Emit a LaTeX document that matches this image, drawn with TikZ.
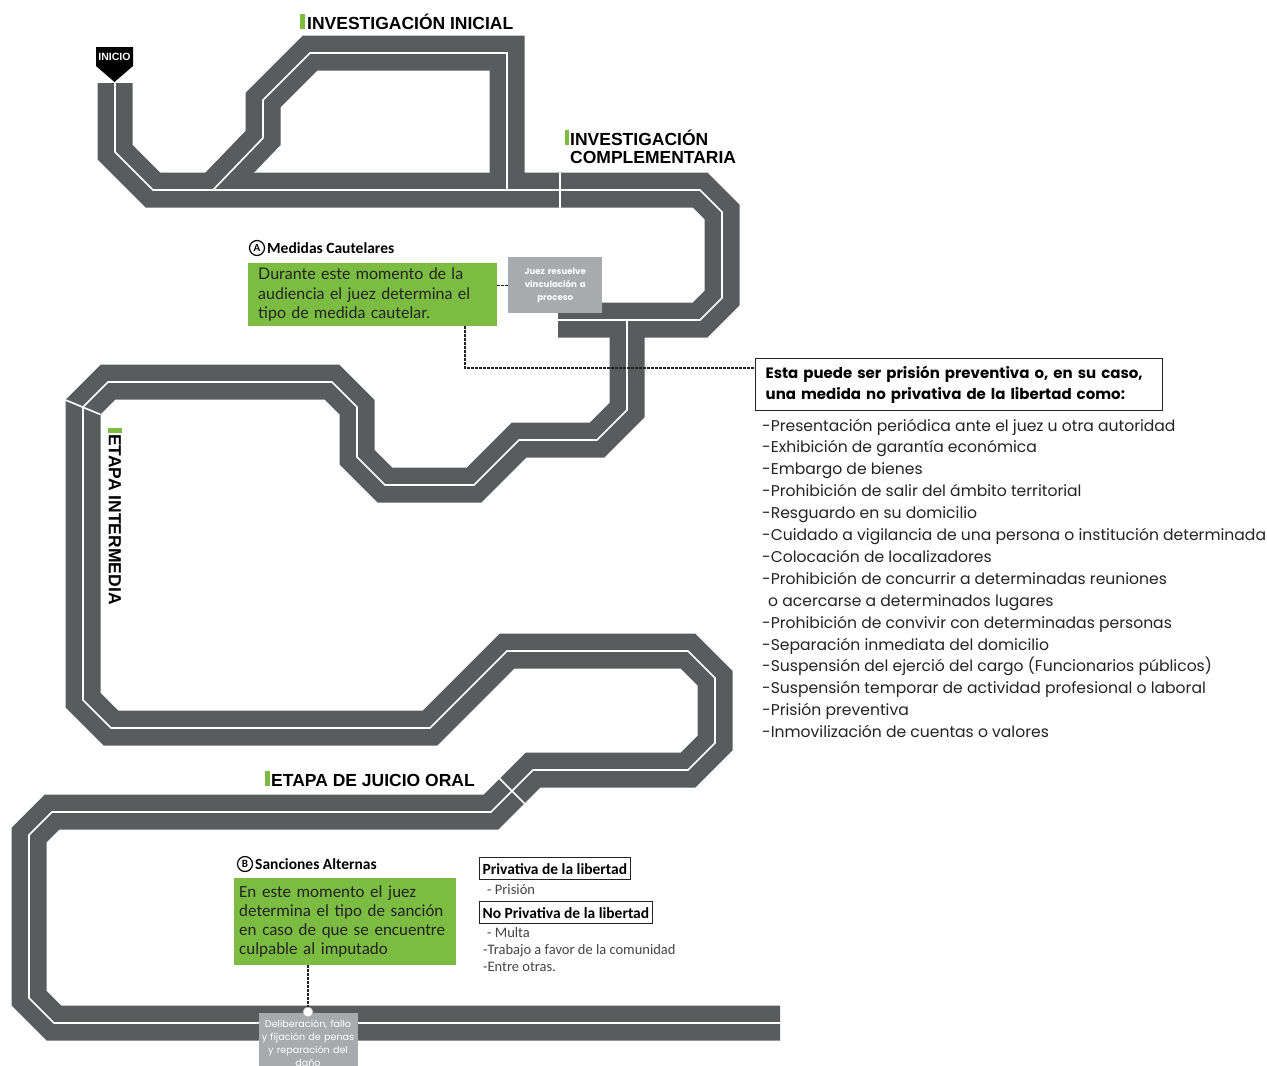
\documentclass[tikz,border=0pt]{standalone}
\usepackage{fontspec}
\setmainfont{Liberation Sans}
\newfontfamily\geofont{Poppins}
\newfontfamily\calfont{Carlito}
\newfontfamily\humfont{Lato}
\definecolor{roadgray}{RGB}{90,91,93}
\definecolor{boxgreen}{RGB}{124,188,66}
\definecolor{boxgray}{RGB}{168,170,173}
\definecolor{inkgray}{RGB}{35,35,35}
\begin{document}
\begin{tikzpicture}[x=1pt,y=-1pt,
  road/.style={draw=roadgray,line width=35pt,line join=miter,line cap=butt},
  lane/.style={draw=white,line width=1.6pt,line join=miter,line cap=butt},
  crossmark/.style={draw=white,line width=1.6pt},
  title/.style={font=\fontsize{17.5}{20}\selectfont\bfseries,inner sep=0pt,anchor=base west,text=black},
  gbar/.style={fill=boxgreen},
  dashconn/.style={draw=inkgray,line width=1.1pt,dash pattern=on 2.2pt off 1.8pt},
  listitem/.style={anchor=base west,inner sep=0pt,font=\geofont\fontsize{15.6}{18}\selectfont,text=inkgray},
  smallitem/.style={anchor=base west,inner sep=0pt,font=\calfont\fontsize{14.5}{16}\selectfont,text=inkgray!85},
  framebox/.style={draw=inkgray,line width=1.2pt,anchor=north west,inner xsep=3pt,inner ysep=0pt,minimum height=22pt,font=\calfont\bfseries\fontsize{15.5}{15.5}\selectfont},
  letter/.style={circle,draw=black,line width=1.2pt,inner sep=0pt,minimum size=15pt,font=\calfont\bfseries\fontsize{11}{11}\selectfont},
  subhead/.style={anchor=west,inner sep=0pt,font=\calfont\bfseries\fontsize{15.5}{16}\selectfont}
]
\useasboundingbox[fill=white] (0,0) rectangle (1267,1066);

% ---------- road ----------
\def\rdA{(115,83) -- (115,152) -- (153,190) -- (700,190) -- (722,212) -- (722,298) -- (700,320) -- (558,320)}
\def\rdB{(213,190) -- (263,138) -- (263,100) -- (310,53) -- (507,53) -- (507,190)}
\def\rdC{(627,320) -- (627,410) -- (597,440) -- (519,440) -- (474,485) -- (385,485) -- (357,457) -- (357,407) -- (332,382) -- (108,382) -- (83,407) -- (83,700) -- (111,728) -- (430,728) -- (507,651) -- (688,651) -- (715,678) -- (715,743) -- (688,770) -- (533,770) -- (491,812) -- (52,812) -- (29,835) -- (29,998) -- (54,1023) -- (780,1023)}
\draw[road] \rdA;
\draw[road] \rdB;
\draw[road] \rdC;
\draw[lane] \rdA;
\draw[lane] \rdB;
\draw[lane] \rdC;
\draw[crossmark] (560,172.5) -- (560,207.5);
\draw[crossmark] (65.5,400) -- (100.5,414.5);
\draw[crossmark] (499.6,778.6) -- (524.4,803.4);

% ---------- INICIO marker ----------
\fill[black] (96,47) -- (133,47) -- (133,66) -- (114.5,82) -- (96,66) -- cycle;
\node[inner sep=0pt,text=white,font=\bfseries\fontsize{10.5}{10.5}\selectfont] (inicio) at (114.5,56.5) {INICIO};

% ---------- stage titles ----------
\fill[gbar] (300,14) rectangle (305,29);
\node[title] (tInicial) at (307,29) {INVESTIGACIÓN INICIAL};
\fill[gbar] (565,130) rectangle (569,145);
\node[title] (tComp1) at (570,145) {INVESTIGACIÓN};
\node[title] (tComp2) at (570,163) {COMPLEMENTARIA};
\fill[gbar] (108,428) rectangle (122,433);
\node[title,rotate=-90,anchor=west] (tInter) at (115,434) {ETAPA INTERMEDIA};
\fill[gbar] (265,771) rectangle (270,786);
\node[title] (tJuicio) at (271,786) {ETAPA DE JUICIO ORAL};

% ---------- A: medidas cautelares ----------
\node[letter] (cA) at (257,248) {A};
\node[subhead] (hA) at (267,248.5) {Medidas Cautelares};
\node[fill=boxgreen,anchor=north west,text width=229pt,inner xsep=10pt,inner ysep=0pt,minimum height=63pt,align=left,
      font=\humfont\fontsize{16}{19.5}\selectfont,text=inkgray] (gA) at (248,263)
      {Durante este momento de la\\audiencia el juez determina el\\tipo de medida cautelar.};
\node[fill=boxgray,anchor=north west,text width=90pt,inner sep=2pt,minimum height=56pt,align=center,
      font=\geofont\bfseries\fontsize{8.6}{13}\selectfont,text=white] (juez) at (508,257)
      {Juez resuelve\\vinculación a\\proceso};
\draw[dashconn] (gA.east |- juez.west) -- (juez.west);

\node[draw=inkgray,line width=1.3pt,anchor=north west,text width=387pt,inner xsep=10pt,inner ysep=0pt,minimum height=52pt,align=left,
      font=\geofont\bfseries\fontsize{15}{21}\selectfont,text=black] (esta) at (755,358)
      {Esta puede ser prisión preventiva o, en su caso,\\una medida no privativa de la libertad como:};
\coordinate (bendA) at (465,368);
\draw[dashconn] (bendA |- gA.south) -- (bendA) -- (esta.west |- bendA);

\foreach \t [count=\i] in {
  -Presentación periódica ante el juez u otra autoridad,
  -Exhibición de garantía económica,
  -Embargo de bienes,
  -Prohibición de salir del ámbito territorial,
  -Resguardo en su domicilio,
  -Cuidado a vigilancia de una persona o institución determinada,
  -Colocación de localizadores,
  -Prohibición de concurrir a determinadas reuniones,
  \hspace*{6pt}o acercarse a determinados lugares,
  -Prohibición de convivir con determinadas personas,
  -Separación inmediata del domicilio,
  -Suspensión del ejerció del cargo (Funcionarios públicos),
  -Suspensión temporar de actividad profesional o laboral,
  -Prisión preventiva,
  -Inmovilización de cuentas o valores}
  \node[listitem] (li\i) at (762,{431+21.9*(\i-1)}) {\t};

% ---------- B: sanciones alternas ----------
\node[letter] (cB) at (245,864) {B};
\node[subhead] (hB) at (255,864.5) {Sanciones Alternas};
\node[fill=boxgreen,anchor=north west,text width=212pt,inner xsep=5pt,inner ysep=0pt,minimum height=87pt,align=left,
      font=\calfont\fontsize{17}{19}\selectfont,text=inkgray] (gB) at (234,878)
      {En este momento el juez\\determina el tipo de sanción\\en caso de que se encuentre\\culpable al imputado};

\node[framebox] (priv) at (479,857) {Privativa de la libertad};
\node[smallitem] (pr1) at (487,894) {- Prisión};
\node[framebox] (nopriv) at (479,901) {No Privativa de la libertad};
\node[smallitem] (np1) at (487,937) {- Multa};
\node[smallitem] (np2) at (483,954) {-Trabajo a favor de la comunidad};
\node[smallitem] (np3) at (483,971) {-Entre otras.};

\node[fill=boxgray,anchor=north,text width=95pt,inner sep=2pt,minimum height=60pt,align=center,
      font=\geofont\fontsize{9.6}{13}\selectfont,text=white] (delib) at (308,1013)
      {Deliberación, fallo\\y fijación de penas\\y reparación del\\daño};
\node[circle,fill=white,draw=boxgray,line width=0.6pt,minimum size=10pt,inner sep=0pt] (dot) at (308,1012) {};
\draw[dashconn] (dot |- gB.south) -- (dot.north);
\end{tikzpicture}
\end{document}
